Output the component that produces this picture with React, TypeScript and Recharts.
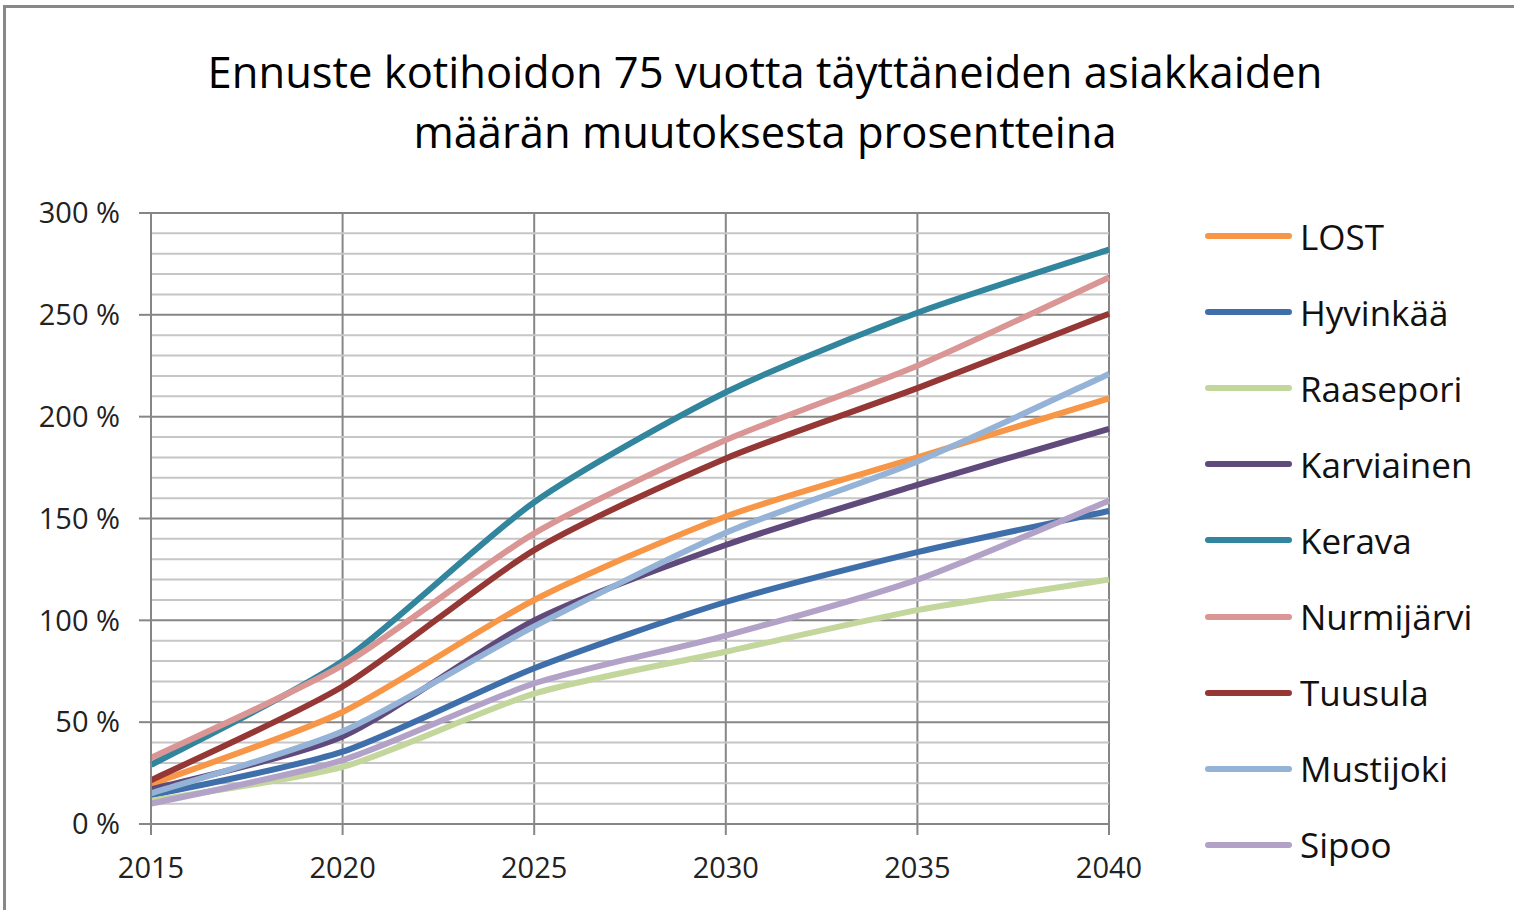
import { LineChart, Line, XAxis, YAxis, CartesianGrid, ReferenceLine } from "recharts";

const VUODET = [2015, 2020, 2025, 2030, 2035, 2040];

const LOST = [19.5, 55, 110, 151, 180, 209];
const HYVINKAA = [14, 35.5, 76.5, 109, 133.5, 153.7];
const RAASEPORI = [11.5, 28, 64, 84.6, 105, 120];
const KARVIAINEN = [17, 43, 100, 137, 166.5, 194];
const KERAVA = [29, 80, 158, 212, 251, 282];
const NURMIJARVI = [32.5, 78, 142.7, 188.5, 225, 268.3];
const TUUSULA = [21.5, 67.5, 134.5, 179.5, 214, 250.5];
const MUSTIJOKI = [15, 45.5, 97, 143, 178, 221];
const SIPOO = [10, 31.4, 69, 92.5, 120, 158.7];

const Y_MAJOR = [0, 50, 100, 150, 200, 250, 300];
const Y_MINOR = [10, 20, 30, 40, 60, 70, 80, 90, 110, 120, 130, 140, 160, 170, 180, 190,
  210, 220, 230, 240, 260, 270, 280, 290];

const SARJAT = [
  { key: "LOST", values: LOST, color: "#F79646" },
  { key: "Hyvinkää", values: HYVINKAA, color: "#3F6FAA" },
  { key: "Raasepori", values: RAASEPORI, color: "#C3D69B" },
  { key: "Karviainen", values: KARVIAINEN, color: "#604A7B" },
  { key: "Kerava", values: KERAVA, color: "#31859C" },
  { key: "Nurmijärvi", values: NURMIJARVI, color: "#D99694" },
  { key: "Tuusula", values: TUUSULA, color: "#953735" },
  { key: "Mustijoki", values: MUSTIJOKI, color: "#95B3D7" },
  { key: "Sipoo", values: SIPOO, color: "#B3A2C7" },
];

const data = VUODET.map((v, i) => {
  const row: Record<string, number> = { vuosi: v };
  SARJAT.forEach(s => { row[s.key] = s.values[i]; });
  return row;
});

// kevyt excel-tyylinen pehmennys (catmull-rom, loivempi)
function excelCurve(context: any) {
  let pts: number[][] = [];
  const s = 0.12;
  return {
    areaStart() {},
    areaEnd() {},
    lineStart() { pts = []; },
    point(x: number, y: number) { pts.push([+x, +y]); },
    lineEnd() {
      if (!pts.length) return;
      context.moveTo(pts[0][0], pts[0][1]);
      for (let i = 0; i < pts.length - 1; i++) {
        const p0 = pts[i - 1] ?? pts[i];
        const p1 = pts[i];
        const p2 = pts[i + 1];
        const p3 = pts[i + 2] ?? p2;
        context.bezierCurveTo(
          p1[0] + s * (p2[0] - p0[0]), p1[1] + s * (p2[1] - p0[1]),
          p2[0] - s * (p3[0] - p1[0]), p2[1] - s * (p3[1] - p1[1]),
          p2[0], p2[1]
        );
      }
    },
  };
}

const FONT = "'Open Sans', 'Noto Sans', sans-serif";
const MAJOR = "#868686";
const MINOR = "#c6c6c6";

export default function App() {
  return (
    <div style={{ position: "absolute", left: 0, top: 0, width: 1514, height: 910, background: "#fff", fontFamily: FONT, overflow: "hidden" }}>
      <div style={{ position: "absolute", left: 3, top: 5, right: -10, bottom: -10, borderTop: "3px solid #888", borderLeft: "3px solid #888" }} />
      <div style={{ position: "absolute", left: 165, width: 1200, top: 42, textAlign: "center", fontSize: 43.5, lineHeight: "60px", color: "#000" }}>
        Ennuste kotihoidon 75 vuotta täyttäneiden asiakkaiden<br />määrän muutoksesta prosentteina
      </div>
      <div style={{ position: "absolute", left: 0, top: 0 }}>
        <LineChart width={1514} height={910} data={data} margin={{ top: 213, right: 405, bottom: 0, left: 0 }}>
          <CartesianGrid yAxisId="pct" horizontal={false} stroke={MAJOR} strokeWidth={2} verticalValues={VUODET} />
          {Y_MINOR.map(v => (
            <ReferenceLine key={`m${v}`} yAxisId="pct" y={v} stroke={MINOR} strokeWidth={2} />
          ))}
          {Y_MAJOR.map(v => (
            <ReferenceLine key={v} yAxisId="pct" y={v} stroke={MAJOR} strokeWidth={2} />
          ))}
          <XAxis
            dataKey="vuosi"
            type="number"
            domain={[2015, 2040]}
            ticks={VUODET}
            height={86}
            tickSize={11}
            tickMargin={22}
            stroke={MAJOR}
            strokeWidth={2}
            tick={{ fill: "#222", fontSize: 29, fontFamily: FONT }}
          />
          <YAxis
            yAxisId="pct"
            domain={[0, 300]}
            ticks={Y_MAJOR}
            width={151}
            tickSize={12}
            tickMargin={19}
            stroke={MAJOR}
            strokeWidth={2}
            tickFormatter={(v: number) => `${v} %`}
            tick={{ fill: "#222", fontSize: 29, fontFamily: FONT }}
          />
          {SARJAT.map(s => (
            <Line
              key={s.key}
              yAxisId="pct"
              type={excelCurve as any}
              dataKey={s.key}
              stroke={s.color}
              strokeWidth={6}
              dot={false}
              isAnimationActive={false}
            />
          ))}
        </LineChart>
      </div>
      {SARJAT.map((s, i) => (
        <div key={s.key} style={{ position: "absolute", left: 1200, top: 236 + i * 76.1 - 25, height: 50, display: "flex", alignItems: "center" }}>
          <svg width={98} height={10} style={{ display: "block" }}>
            <line x1={8} y1={5} x2={89} y2={5} stroke={s.color} strokeWidth={6} strokeLinecap="round" />
          </svg>
          <span style={{ fontSize: 35, color: "#111", marginLeft: 2 }}>{s.key}</span>
        </div>
      ))}
    </div>
  );
}
